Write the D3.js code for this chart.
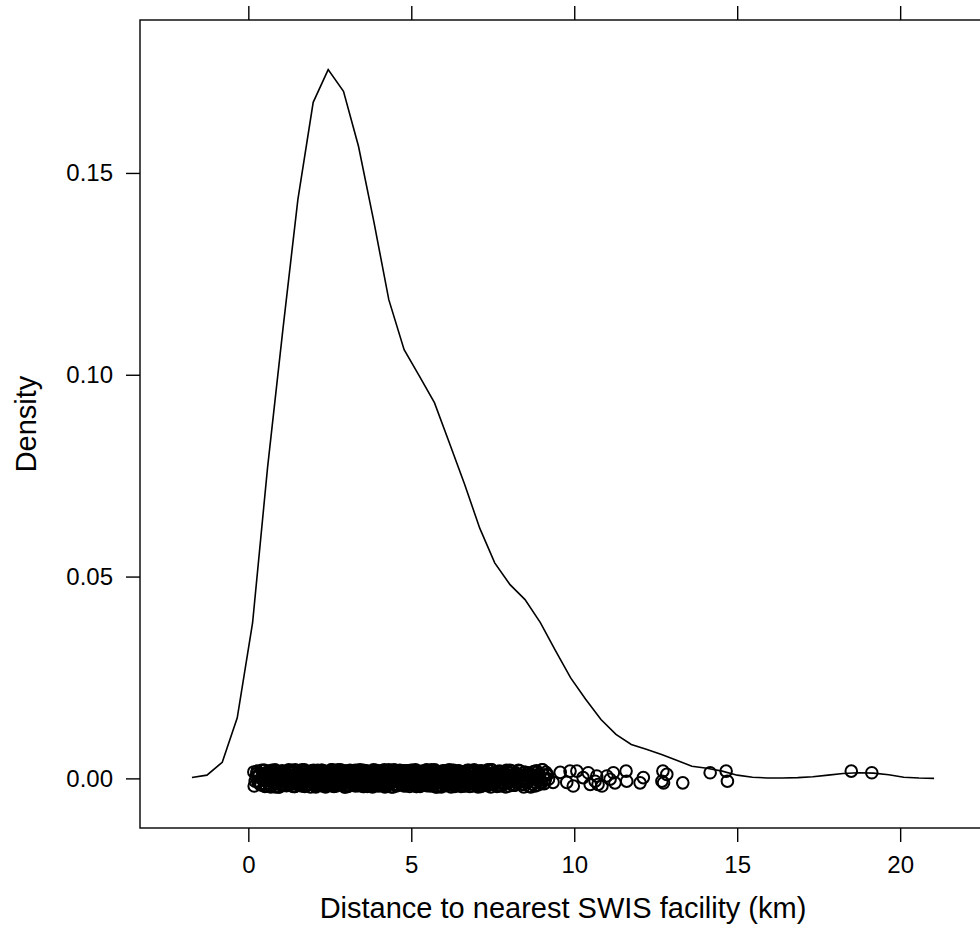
<!DOCTYPE html>
<html>
<head>
<meta charset="utf-8">
<script src="https://cdn.jsdelivr.net/npm/d3@7"></script>
<style>
  body { margin: 0; background: #fff; }
  svg { display: block; font-family: 'Liberation Sans', Arial, Helvetica, sans-serif; }
</style>
</head>
<body>
<svg id="chart" width="980" height="927"></svg>
<script>
// Kernel density estimate, 50 evaluation points (km -> density).
const densityX = [
  -1.73, -1.27, -0.80, -0.34, 0.13, 0.59, 1.06, 1.52, 1.99, 2.45,
  2.92, 3.38, 3.85, 4.31, 4.78, 5.24, 5.71, 6.17, 6.63, 7.10,
  7.56, 8.03, 8.49, 8.96, 9.42, 9.89, 10.35, 10.82, 11.28, 11.75,
  12.21, 12.68, 13.14, 13.61, 14.07, 14.54, 15.00, 15.47, 15.93, 16.39,
  16.86, 17.32, 17.79, 18.25, 18.72, 19.18, 19.65, 20.11, 20.58, 21.04,
];
const densityY = [
  0.0002, 0.0008, 0.0040, 0.0150, 0.0385, 0.0770, 0.1112, 0.1434, 0.1675, 0.1756,
  0.1702, 0.1566, 0.1380, 0.1186, 0.1062, 0.0998, 0.0931, 0.0831, 0.0730, 0.0620,
  0.0534, 0.0480, 0.0443, 0.0386, 0.0317, 0.0249, 0.0196, 0.0146, 0.0109, 0.0084,
  0.0072, 0.0059, 0.0045, 0.0030, 0.0025, 0.0018, 0.0008, 0.0003, 0.0001, 0.0001,
  0.0002, 0.0004, 0.0008, 0.0012, 0.0014, 0.0013, 0.0009, 0.0003, 0.0001, 0.0000,
];

// Observed distances (km), drawn at density 0 with jitter given in thousandths.
const bandDistances = [
  0.17, 0.18, 0.24, 0.29, 0.33, 0.37, 0.41, 0.45, 0.48,
  0.51, 0.54, 0.57, 0.59, 0.62, 0.65, 0.68, 0.71, 0.73, 0.76, 0.79, 0.82, 0.85, 0.87, 0.90, 0.93, 0.96, 0.98,
  1.01, 1.04, 1.06, 1.09, 1.12, 1.14, 1.17, 1.20, 1.23, 1.25, 1.28, 1.31, 1.34, 1.36, 1.39, 1.42, 1.45, 1.47, 1.50,
  1.53, 1.56, 1.58, 1.61, 1.64, 1.67, 1.69, 1.72, 1.75, 1.78, 1.80, 1.83, 1.86, 1.89, 1.91, 1.94, 1.97, 1.99,
  2.02, 2.05, 2.08, 2.10, 2.13, 2.16, 2.19, 2.21, 2.24, 2.27, 2.30, 2.32, 2.35, 2.38, 2.41, 2.43, 2.46, 2.49,
  2.52, 2.54, 2.57, 2.60, 2.63, 2.65, 2.68, 2.71, 2.74, 2.76, 2.79, 2.82, 2.85, 2.87, 2.90, 2.93, 2.96, 2.98,
  3.01, 3.04, 3.07, 3.09, 3.12, 3.15, 3.18, 3.21, 3.23, 3.26, 3.29, 3.32, 3.35, 3.37, 3.40, 3.43, 3.46, 3.49,
  3.51, 3.54, 3.57, 3.60, 3.63, 3.65, 3.68, 3.71, 3.74, 3.77, 3.80, 3.82, 3.85, 3.88, 3.91, 3.94, 3.97, 3.99,
  4.02, 4.05, 4.08, 4.11, 4.14, 4.17, 4.20, 4.23, 4.26, 4.29, 4.32, 4.35, 4.38, 4.41, 4.44, 4.47, 4.50,
  4.53, 4.56, 4.59, 4.62, 4.65, 4.68, 4.71, 4.74, 4.77, 4.80, 4.83, 4.86, 4.89, 4.92, 4.95, 4.98,
  5.01, 5.04, 5.07, 5.10, 5.13, 5.16, 5.19, 5.22, 5.25, 5.28, 5.31, 5.34, 5.37, 5.40, 5.43, 5.46, 5.49,
  5.52, 5.55, 5.58, 5.61, 5.64, 5.67, 5.70, 5.73, 5.76, 5.79, 5.82, 5.85, 5.88, 5.91, 5.94, 5.97,
  6.00, 6.03, 6.07, 6.10, 6.13, 6.16, 6.20, 6.23, 6.26, 6.29, 6.33, 6.36, 6.39, 6.42, 6.46, 6.49,
  6.52, 6.55, 6.59, 6.62, 6.65, 6.68, 6.72, 6.75, 6.78, 6.81, 6.85, 6.88, 6.91, 6.94, 6.98,
  7.01, 7.05, 7.08, 7.12, 7.15, 7.19, 7.23, 7.26, 7.30, 7.34, 7.37, 7.41, 7.45, 7.48,
  7.52, 7.56, 7.60, 7.63, 7.67, 7.71, 7.75, 7.79, 7.83, 7.87, 7.91, 7.95, 7.99,
  8.03, 8.08, 8.12, 8.17, 8.21, 8.26, 8.31, 8.35, 8.40, 8.45, 8.50,
  8.55, 8.60, 8.65, 8.71, 8.76, 8.82, 8.88, 8.94, 9.01, 9.08, 9.15,
];
const bandJitter = [
  1.6, -1.9, 0.4, -0.8, 1.1, -1.5, 2.0, -0.2, 0.9, -2.0, 1.4, -0.6, 0.1, -1.2, 1.8, -1.7, 0.6, -0.4, 1.2, -1.0,
  2.1, -1.3, -0.1, 0.8, -2.1, 1.5, -0.7, 0.3, 1.9, -1.6, 0.0, -0.9, 1.3, -1.8, 0.7, 1.7, -0.3, -1.4, 0.5, 2.0,
  -1.1, 0.2, -2.0, 1.0, -0.5, 1.6, -1.5, 0.9, -0.1, 1.8, -1.9, 0.4, -1.2, 2.1, -0.6, 1.1, -1.7, 0.3, 1.4, -0.8,
  -2.1, 1.9, 0.6, -1.3, 0.1, -0.4, 1.5, -1.0, 2.0, -1.6, 0.8, -0.2, 1.2, -1.9, 0.5, -0.7, 1.7, -1.4, 0.0, 1.0,
  -1.8, 1.3, -0.3, 2.1, -1.1, 0.7, -2.0, 0.2, 1.6, -0.9, 1.9, -1.5, 0.4, -0.6, 1.1, -1.2, 1.8, -0.1, 0.9, -2.1,
  1.4, -0.8, 0.3, -1.7, 2.0, -0.4, 1.0, -1.3, 0.6, 1.7, -1.9, 0.1, -1.0, 1.5, -0.5, 2.1, -1.6, 0.8, -0.2, 1.2,
  -1.4, 0.5, 1.9, -2.0, 0.0, -0.7, 1.3, -1.1, 1.6, -0.3, 0.7, -1.8, 2.0, -0.9, 0.2, 1.1, -1.5, 1.8, -0.6, 0.4,
  -1.2, 2.1, -0.1, -1.9, 1.0, 0.6, -1.4, 1.5, -0.5, 0.9, -2.1, 1.7, -0.8, 0.3, 1.2, -1.6, 0.1, 2.0, -1.0, -0.3,
  1.4, -1.7, 0.8, -0.2, 1.9, -1.3, 0.5, -2.0, 1.1, -0.6, 1.6, -1.1, 0.0, 2.1, -1.8, 0.7, -0.4, 1.3, -1.5, 0.2,
  1.8, -0.9, -1.6, 0.6, 2.0, -0.1, -1.2, 1.4, -1.9, 0.9, 0.3, -0.7, 1.7, -1.4, 1.0, -2.1, 0.4, 1.5, -0.5, -1.0,
  0.8, 1.9, -1.3, 0.2, -1.8, 1.2, -0.3, 2.1, -1.1, 0.5, -0.8, 1.6, -2.0, 0.1, 1.1, -1.5, 1.8, -0.4, 0.7, -1.7,
  1.3, -0.2, -1.9, 0.9, 2.0, -1.0, 0.4, -1.4, 1.5, -0.6, 0.0, 1.7, -1.6, 0.6, -2.1, 1.0, -0.9, 1.9, -0.1, -1.2,
  0.3, 1.6, -1.8, 1.1, -0.5, 2.1, -1.3, 0.8, -0.7, 1.4, -2.0, 0.2, 1.8, -1.1, 0.5, -1.5, 1.2, -0.3, 0.9, -1.9,
  2.0, -0.6, 0.1, -1.7, 1.3, -1.0, 1.9, -0.4, 0.7, -2.1, 1.5, -0.8, 0.4, 1.0, -1.4, 1.7, -0.2, -1.6, 0.6, 2.1,
  -1.3, 0.9,
];
const bandDistances2 = [
  0.21, 0.27, 0.35, 0.43, 0.50, 0.56, 0.61, 0.66, 0.70, 0.75, 0.80, 0.84, 0.89, 0.94,
  1.00, 1.05, 1.10, 1.15, 1.19, 1.24, 1.29, 1.33, 1.38, 1.43, 1.48, 1.52, 1.57, 1.62, 1.66, 1.71, 1.76, 1.81, 1.85, 1.90, 1.95,
  2.00, 2.04, 2.09, 2.14, 2.18, 2.23, 2.28, 2.33, 2.37, 2.42, 2.47, 2.51, 2.56, 2.61, 2.66, 2.70, 2.75, 2.80, 2.84, 2.89, 2.94, 2.99,
  3.03, 3.08, 3.13, 3.17, 3.22, 3.27, 3.31, 3.36, 3.41, 3.45, 3.50, 3.55, 3.59, 3.64, 3.69, 3.73, 3.78, 3.83, 3.87, 3.92, 3.96,
  4.01, 4.06, 4.10, 4.15, 4.19, 4.24, 4.28, 4.33, 4.37, 4.42, 4.46, 4.51, 4.55, 4.60, 4.64, 4.69, 4.73, 4.78, 4.82, 4.87, 4.91, 4.96,
  5.00, 5.05, 5.09, 5.14, 5.18, 5.23, 5.27, 5.32, 5.36, 5.41, 5.45, 5.50, 5.54, 5.59, 5.63, 5.68, 5.72, 5.77, 5.81, 5.86, 5.90, 5.95, 5.99,
  6.04, 6.09, 6.14, 6.18, 6.22, 6.27, 6.31, 6.36, 6.41, 6.45, 6.50, 6.54, 6.59, 6.63, 6.68, 6.73, 6.77, 6.82, 6.87, 6.92, 6.96,
  7.03, 7.09, 7.14, 7.20, 7.25, 7.31, 7.36, 7.42, 7.47, 7.53, 7.58, 7.64, 7.70, 7.76, 7.82, 7.88, 7.93,
  8.00, 8.06, 8.14, 8.23, 8.29, 8.37, 8.43, 8.52, 8.58, 8.67, 8.74, 8.84, 8.91, 8.99, 9.06, 9.13, 9.21,
];
const bandJitter2 = [
  -0.7, 1.8, -1.4, 0.3, 2.0, -1.9, 0.9, -0.4, 1.5, -1.1, 0.6, -2.1, 1.2, -0.2, 1.7, -1.6, 0.0, 1.0, -0.9, 2.1,
  -1.5, 0.4, 1.6, -2.0, 0.8, -0.6, 1.3, -1.3, 0.2, 1.9, -1.8, 0.7, -0.3, 1.4, -1.0, 2.0, -1.7, 0.5, 1.1, -0.8,
  0.1, -1.2, 1.8, -2.1, 0.9, 1.5, -0.5, -1.6, 1.2, 0.3, -1.9, 2.1, -0.9, 0.6, -1.4, 1.7, -0.1, -1.1, 1.0, -0.4,
  1.9, -1.7, 0.4, -0.7, 2.0, -1.3, 0.8, 1.3, -2.0, 0.0, -0.8, 1.6, -1.5, 0.5, 1.1, -1.0, 1.8, -0.3, 0.2, -1.8,
  1.4, -0.5, -2.1, 0.7, 1.7, -1.2, 0.1, -0.9, 2.1, -1.6, 1.0, -0.2, 0.6, -1.4, 1.5, -1.9, 0.3, 1.9, -0.6, -1.1,
  0.9, 2.0, -1.5, 0.2, -0.7, 1.3, -2.0, 1.1, -0.4, 1.6, -1.2, 0.4, 1.8, -1.7, 0.0, -1.0, 2.1, -0.8, 1.2, -0.1,
  -1.9, 0.6, 1.4, -1.3, 0.8, -0.3, 1.7, -2.1, 0.5, -0.6, 1.0, -1.5, 1.9, -0.9, 0.2, 1.5, -1.8, 0.7, -0.2, 2.0,
  -1.1, 1.2, -0.5, 0.3, -1.6, 1.8, -2.0, 0.9, 1.3, -0.7, 0.1, -1.4, 2.1, -1.2, 0.6, -0.1, 1.6, -1.9, 1.0, -0.4,
  1.7, -1.0, 0.4, -1.7, 1.1, 2.0, -0.8, -1.5, 0.7, 1.4, -2.1, 0.0, 1.9, -0.6, -1.3, 0.8, 1.5, -0.2,
];
const bandDistances3 = [
  0.31, 0.39, 0.47, 0.53, 0.60, 0.64, 0.69, 0.78, 0.83, 0.91, 0.97,
  1.03, 1.08, 1.13, 1.21, 1.27, 1.32, 1.37, 1.41, 1.46, 1.51, 1.55, 1.60, 1.65, 1.70, 1.74, 1.79, 1.84, 1.88, 1.93, 1.98,
  2.03, 2.07, 2.12, 2.17, 2.22, 2.26, 2.31, 2.36, 2.40, 2.45, 2.50, 2.55, 2.59, 2.64, 2.69, 2.73, 2.78, 2.83, 2.88, 2.92, 2.97,
  3.02, 3.06, 3.11, 3.16, 3.20, 3.25, 3.30, 3.34, 3.39, 3.44, 3.48, 3.53, 3.58, 3.62, 3.67, 3.72, 3.76, 3.81, 3.86, 3.90, 3.95,
  4.00, 4.04, 4.09, 4.13, 4.18, 4.22, 4.27, 4.31, 4.36, 4.40, 4.45, 4.49, 4.54, 4.58, 4.63, 4.67, 4.72, 4.76, 4.81, 4.85, 4.90, 4.94, 4.99,
  5.03, 5.08, 5.12, 5.17, 5.21, 5.26, 5.30, 5.35, 5.39, 5.44, 5.48, 5.53, 5.57, 5.62, 5.66, 5.71, 5.75, 5.80, 5.84, 5.89, 5.93, 5.98,
  6.02, 6.06, 6.11, 6.15, 6.21, 6.25, 6.30, 6.35, 6.40, 6.44, 6.48, 6.53, 6.57, 6.61, 6.66, 6.70, 6.76, 6.80, 6.84, 6.89, 6.93, 6.97,
  7.04, 7.11, 7.17, 7.22, 7.28, 7.33, 7.39, 7.44, 7.50, 7.55, 7.62, 7.68, 7.73, 7.80, 7.86, 7.92, 7.97,
  8.05, 8.11, 8.19, 8.25, 8.33, 8.41, 8.48, 8.56, 8.63, 8.70, 8.79, 8.87, 8.96, 9.03, 9.11, 9.18,
];
const bandJitter3 = [
  0.5, -1.6, 2.0, -0.3, -1.1, 1.3, -2.1, 0.8, 1.7, -0.7, 0.2, -1.8, 1.1, -0.5, 1.9, -1.2, 0.6, -2.0, 1.5, 0.0,
  -0.9, 1.6, -1.4, 2.1, -0.2, 0.9, -1.7, 1.2, -0.6, 0.4, 1.8, -1.0, -2.1, 1.4, 0.1, -1.5, 2.0, -0.8, 0.7, -1.3,
  1.0, -0.1, 1.7, -1.9, 0.3, -1.1, 1.5, -0.4, 2.1, -1.6, 0.6, -0.7, 1.3, -2.0, 0.9, -1.4, 1.9, 0.2, -1.2, 0.5,
  -1.8, 1.1, -0.3, 2.0, -1.5, 0.0, 1.4, -0.9, 0.7, -2.1, 1.6, -0.6, 0.4, -1.3, 1.8, -1.0, 0.1, 1.2, -1.7, 0.8,
  2.1, -1.2, 0.5, -0.5, 1.0, -1.9, 1.5, -0.2, 0.3, -1.6, 1.9, -0.8, 1.1, -1.4, 0.6, 2.0, -1.1, -0.3, 1.3, -2.0,
  0.2, 1.7, -1.5, 0.9, -0.7, 1.4, -1.8, 0.4, -0.1, 2.1, -1.3, 0.8, -2.1, 1.0, -0.4, 1.6, -1.0, 0.0, 1.8, -1.6,
  0.7, -0.9, 1.2, -1.7, 2.0, -0.5, 0.3, -1.2, 1.5, -2.0, 0.9, -0.2, 1.7, -1.4, 0.5, -0.8, 1.1, -1.9, 2.1, -0.6,
  -1.1, 0.4, 1.6, -1.5, 0.1, -0.4, 1.9, -2.1, 0.8, 1.3, -0.7, -1.8, 1.0, 0.3, -1.2, 2.0, -0.3, 1.4, -1.6, 0.6,
  -0.5, 1.8, -1.3, 0.0, 1.2, -2.0, 0.7, -0.9, 1.5, -1.1, 2.1, -0.2, 0.9,
];
const bandDistances4 = [
  0.26, 0.44, 0.55, 0.63, 0.72, 0.81, 0.88, 0.95,
  1.02, 1.07, 1.11, 1.16, 1.22, 1.26, 1.30, 1.35, 1.40, 1.44, 1.49, 1.54, 1.59, 1.63, 1.68, 1.73, 1.77, 1.82, 1.87, 1.92, 1.96,
  2.01, 2.06, 2.11, 2.15, 2.20, 2.25, 2.29, 2.34, 2.39, 2.44, 2.48, 2.53, 2.58, 2.62, 2.67, 2.72, 2.77, 2.81, 2.86, 2.91, 2.95,
  3.00, 3.05, 3.10, 3.14, 3.19, 3.24, 3.28, 3.33, 3.38, 3.42, 3.47, 3.52, 3.56, 3.61, 3.66, 3.70, 3.75, 3.79, 3.84, 3.89, 3.93, 3.98,
  4.03, 4.07, 4.12, 4.16, 4.21, 4.25, 4.30, 4.34, 4.39, 4.43, 4.48, 4.52, 4.57, 4.61, 4.66, 4.70, 4.75, 4.79, 4.84, 4.88, 4.93, 4.97,
  5.02, 5.06, 5.11, 5.15, 5.20, 5.24, 5.29, 5.33, 5.38, 5.42, 5.47, 5.51, 5.56, 5.60, 5.65, 5.69, 5.74, 5.78, 5.83, 5.87, 5.92, 5.96,
  6.01, 6.05, 6.12, 6.17, 6.24, 6.28, 6.34, 6.38, 6.43, 6.47, 6.56, 6.60, 6.64, 6.69, 6.74, 6.79, 6.86, 6.90, 6.95,
  7.06, 7.13, 7.21, 7.27, 7.35, 7.43, 7.51, 7.59, 7.66, 7.74, 7.84, 7.90, 7.98,
  8.09, 8.18, 8.28, 8.39, 8.47, 8.57, 8.68, 8.80, 8.93, 9.10,
];
const bandJitter4 = [
  1.2, -0.4, -1.8, 0.7, 2.0, -1.1, 0.3, -2.1, 1.6, -0.8, 0.0, 1.4, -1.5, 1.9, -0.6, 0.5, -1.3, 2.1, -0.2, -1.7,
  0.9, -0.9, 1.7, -2.0, 0.4, 1.1, -1.4, 0.2, -0.5, 1.8, -1.9, 0.8, 1.3, -1.0, 2.0, -0.1, -1.6, 0.6, 1.5, -1.2,
  -0.3, 2.1, -1.8, 1.0, -0.7, 0.1, 1.6, -1.5, 0.7, -2.1, 1.9, -0.4, 0.3, -1.1, 1.2, -1.7, 2.0, -0.8, 0.5, -1.3,
  1.4, -2.0, 0.9, -0.2, 1.7, -1.0, 0.0, -1.6, 2.1, -0.6, 1.1, -1.9, 0.6, 1.5, -1.2, 0.2, -0.9, 1.8, -1.4, 0.4,
  -2.1, 1.3, -0.5, 2.0, -1.7, 0.8, -0.1, 1.6, -1.1, 0.3, -1.8, 1.0, -0.3, 1.9, -1.5, 0.7, 1.2, -2.0, 0.1, -0.7,
  1.5, -1.3, 0.5, -0.9, 2.1, -1.6, 0.9, -0.4, 1.3, -1.9, 0.2, 1.7, -1.0, 0.6, -2.1, 1.1, -0.6, 1.8, -1.2, 0.0,
  2.0, -1.4, 0.4, -1.8, 1.0, -0.2, 1.6, -0.8, 0.7, -1.5, 1.9, -2.0, 0.3, 1.2, -1.1, 0.9, -0.5, 1.4, -1.7, 2.1,
  -0.9, 0.6, -1.3, 1.7, -0.1, 1.0, -2.1, 0.5, 1.8, -1.6, 0.2, -0.7, 1.5, -1.0, 0.8, -1.9, 1.1, -0.3,
];
const tailDistances = [
  9.35, 9.57, 9.77, 9.87, 9.97, 10.08, 10.27, 10.43, 10.49, 10.64, 10.69, 10.73, 10.85, 11.00, 11.10, 11.20,
  11.25, 11.59, 11.61, 12.02, 12.12, 12.69, 12.72, 12.74, 12.84, 13.33, 14.17, 14.66, 14.70, 18.50, 19.13,
];
const tailJitter = [
  -1.0, 1.5, -1.0, 1.8, -1.9, 1.8, 0.2, 1.4, -1.5, -0.7, 0.6, -1.5, -1.9, 0.6, -0.2, 1.4,
  -1.1, 1.8, -0.7, -1.1, 0.2, -0.7, 1.8, -1.1, 1.0, -1.1, 1.4, 1.8, -0.7, 1.8, 1.4,
];

const xTicks = [0, 5, 10, 15, 20];
const yTicks = [0, 0.05, 0.10, 0.15];

const X_LABEL = 'Distance to nearest SWIS facility (km)';
const Y_LABEL = 'Density';

const PANEL = { left: 140, top: 20, right: 986, bottom: 828 };
const TICK = 14;
const PAD = 0.07; // lattice extends the limits by 7% on each side
const TICK_FONT = 24;
const LABEL_FONT = 29;

function padded(extent) {
  const d = (extent[1] - extent[0]) * PAD;
  return [extent[0] - d, extent[1] + d];
}

const svg = d3.select('#chart');

const x = d3.scaleLinear()
  .domain(padded(d3.extent(densityX)))
  .range([PANEL.left, PANEL.right]);
const y = d3.scaleLinear()
  .domain(padded([0, d3.max(densityY)]))
  .range([PANEL.bottom, PANEL.top]);

// Axes: ticks out, no domain line (the panel box is drawn separately).
function styleAxis(g) {
  g.select('.domain').remove();
  g.selectAll('line').attr('stroke', '#000').attr('stroke-width', 1.4);
  g.selectAll('text').attr('fill', '#000').style('font-size', `${TICK_FONT}px`);
}

svg.append('g')
  .attr('transform', `translate(0,${PANEL.bottom})`)
  .call(d3.axisBottom(x).tickValues(xTicks).tickSize(TICK).tickPadding(14).tickFormat(d3.format('d')))
  .call(styleAxis);

svg.append('g')
  .attr('transform', `translate(0,${PANEL.top})`)
  .call(d3.axisTop(x).tickValues(xTicks).tickSize(TICK).tickFormat(''))
  .call(styleAxis);

svg.append('g')
  .attr('transform', `translate(${PANEL.left},0)`)
  .call(d3.axisLeft(y).tickValues(yTicks).tickSize(TICK).tickPadding(13).tickFormat(d3.format('.2f')))
  .call(styleAxis);

svg.append('rect')
  .attr('x', PANEL.left)
  .attr('y', PANEL.top)
  .attr('width', PANEL.right - PANEL.left)
  .attr('height', PANEL.bottom - PANEL.top)
  .attr('fill', 'none')
  .attr('stroke', '#000')
  .attr('stroke-width', 1.4);

// Density curve
const line = d3.line()
  .x((d, i) => x(densityX[i]))
  .y((d) => y(d));

svg.append('path')
  .datum(densityY)
  .attr('d', line)
  .attr('fill', 'none')
  .attr('stroke', '#000')
  .attr('stroke-width', 1.6);

// Jittered points
const pair = (dist, jit) => dist.map((d, i) => [d, jit[i]]);
const points = pair(bandDistances, bandJitter)
  .concat(pair(bandDistances2, bandJitter2))
  .concat(pair(bandDistances3, bandJitter3))
  .concat(pair(bandDistances4, bandJitter4))
  .concat(pair(tailDistances, tailJitter));

svg.append('g')
  .selectAll('circle')
  .data(points)
  .join('circle')
  .attr('cx', (d) => x(d[0]))
  .attr('cy', (d) => y(d[1] / 1000))
  .attr('r', 5.8)
  .attr('fill', 'none')
  .attr('stroke', '#000')
  .attr('stroke-width', 2);

// Axis titles
svg.append('text')
  .attr('x', (PANEL.left + PANEL.right) / 2)
  .attr('y', 918)
  .attr('text-anchor', 'middle')
  .style('font-size', `${LABEL_FONT}px`)
  .text(X_LABEL);

svg.append('text')
  .attr('transform', `translate(36,${(PANEL.top + PANEL.bottom) / 2}) rotate(-90)`)
  .attr('text-anchor', 'middle')
  .style('font-size', `${LABEL_FONT}px`)
  .text(Y_LABEL);
</script>
</body>
</html>
